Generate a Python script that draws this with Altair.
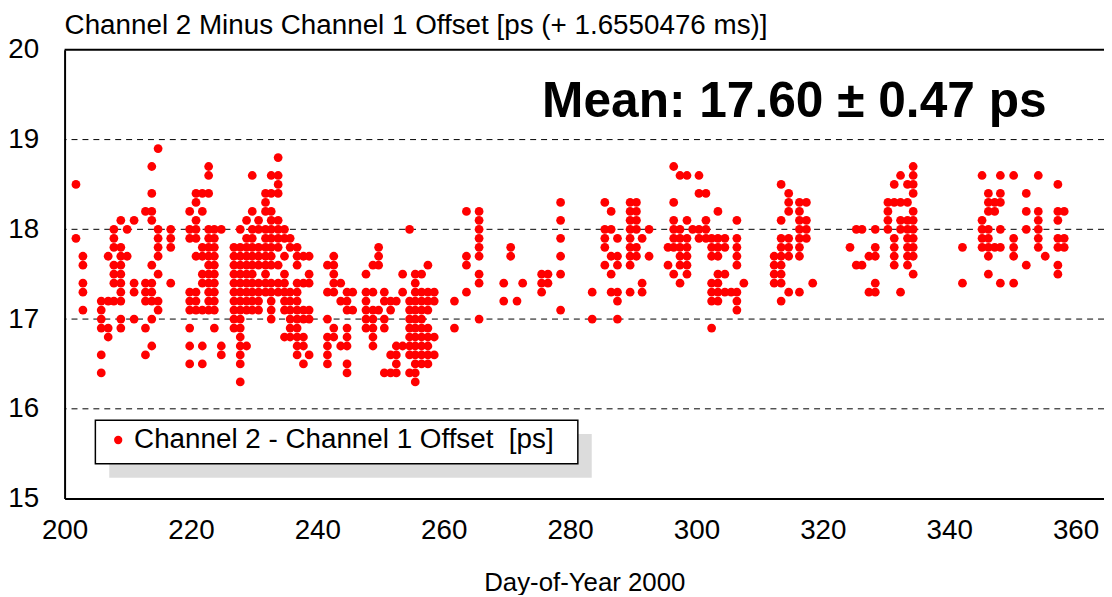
import altair as alt
import pandas as pd

FONT = "Liberation Sans, Arial, Helvetica, sans-serif"

# day-of-year of each measurement column
days = [
    201.8, 202.9, 205.8, 206.9, 207.8, 208.9, 209.9, 211.0, 212.8, 213.8, 214.8, 216.8,
    219.8, 220.8, 221.8, 222.8, 223.7, 224.8, 226.8, 227.8, 228.8, 229.7, 230.7, 231.8,
    232.7, 233.8, 234.8, 235.7, 236.8, 237.8, 238.7, 241.6, 242.6, 243.7, 244.7, 245.6,
    247.7, 248.8, 249.7, 250.6, 251.6, 252.5, 253.5, 254.6, 255.5, 256.5, 257.5, 258.5,
    261.7, 263.6, 265.6, 269.5, 270.6, 271.6, 272.5, 275.5, 276.5, 278.5, 283.5, 285.5,
    286.5, 287.5, 289.5, 290.5, 291.4, 292.5, 295.5, 296.4, 297.4, 298.5, 299.4, 300.4,
    301.5, 302.4, 303.4, 304.5, 305.5, 306.4, 307.5, 312.3, 313.4, 314.6, 316.3, 317.4,
    318.4, 324.3, 325.3, 326.2, 327.3, 328.3, 330.3, 331.3, 332.3, 333.4, 334.3, 342.1,
    345.2, 346.2, 347.2, 348.1, 350.2, 352.2, 354.1, 355.2, 357.2, 358.2,
]

# offsets (ps) measured on each of those days
offsets = [
    [18.5, 17.9],
    [17.7, 17.6, 17.4, 17.3, 17.1],
    [17.2, 17.1, 17.0, 16.9, 16.6, 16.4],
    [17.7, 17.2, 16.9, 16.8],
    [18.0, 17.9, 17.8, 17.6, 17.5, 17.4, 17.2],
    [18.1, 17.8, 17.7, 17.6, 17.5, 17.4, 17.3, 17.2, 17.0, 16.9],
    [18.0, 17.7],
    [18.1, 17.4, 17.3, 17.0],
    [18.2, 17.4, 17.3, 17.2, 16.9, 16.6],
    [18.7, 18.4, 18.2, 18.1, 17.6, 17.4, 17.3, 17.2, 17.0, 16.7],
    [18.9, 18.0, 17.9, 17.8, 17.7, 17.5, 17.2, 17.1],
    [18.0, 17.9, 17.8, 17.4],
    [18.2, 18.0, 17.9, 17.3, 17.2, 17.1, 16.9, 16.7, 16.5],
    [18.4, 18.3, 18.1, 18.0, 17.9, 17.7, 17.3, 17.2, 17.1],
    [18.4, 18.2, 17.8, 17.7, 17.5, 17.4, 17.1, 16.7, 16.5],
    [18.7, 18.6, 18.4, 18.0, 17.9, 17.8, 17.7, 17.6, 17.5, 17.4, 17.3, 17.2, 17.1],
    [18.0, 17.9, 17.8, 17.7, 17.6, 17.5, 17.4, 17.3, 17.2, 17.1, 16.9],
    [18.0, 16.7, 16.6],
    [17.8, 17.7, 17.6, 17.5, 17.4, 17.3, 17.2, 17.1, 17.0, 16.9],
    [18.0, 17.8, 17.7, 17.6, 17.5, 17.4, 17.3, 17.2, 17.1, 17.0, 16.9, 16.8, 16.7, 16.6, 16.5, 16.3],
    [18.1, 17.9, 17.8, 17.7, 17.6, 17.5, 17.4, 17.3, 17.2, 17.1, 16.7],
    [18.6, 18.2, 18.0, 17.9, 17.8, 17.7, 17.6, 17.5, 17.4, 17.3, 17.2, 17.1],
    [18.1, 18.0, 17.8, 17.7, 17.6, 17.4, 17.3, 17.2, 17.1],
    [18.4, 18.3, 18.2, 18.0, 17.9, 17.8, 17.7, 17.6, 17.5, 17.4, 17.3],
    [18.6, 18.4, 18.2, 18.1, 18.0, 17.9, 17.8, 17.7, 17.6, 17.4, 17.3, 17.2, 17.1, 17.0],
    [18.8, 18.6, 18.5, 18.4, 18.1, 18.0, 17.9, 17.8, 17.6, 17.4, 17.3],
    [18.0, 17.9, 17.7, 17.5, 17.4, 17.3, 17.2, 17.1, 16.8],
    [17.9, 17.8, 17.3, 17.2, 17.1, 17.0, 16.9, 16.8],
    [17.8, 17.7, 17.6, 17.4, 17.3, 17.2, 17.1, 17.0, 16.9, 16.8, 16.7, 16.6],
    [17.7, 17.4, 17.1, 17.0, 16.8, 16.7, 16.5],
    [17.7, 17.5, 17.4, 17.1, 17.0, 16.6],
    [17.6, 17.3, 17.0, 16.8, 16.7, 16.6, 16.5],
    [17.7, 17.6, 17.5, 17.4, 17.3, 16.9, 16.8],
    [17.4, 17.2, 16.7],
    [17.3, 17.2, 17.1, 16.9, 16.8, 16.7, 16.5, 16.4],
    [17.3, 17.1],
    [17.5, 17.3, 17.2, 17.1, 17.0, 16.9],
    [17.6, 17.3, 17.1, 17.0, 16.9, 16.8, 16.7],
    [17.8, 17.7, 17.6, 17.1],
    [17.3, 17.2, 17.0, 16.9, 16.4],
    [17.2, 17.1, 16.6, 16.4],
    [17.2, 16.7, 16.6, 16.5, 16.4],
    [17.5, 17.3, 16.7],
    [18.0, 17.2, 17.1, 17.0, 16.9, 16.8, 16.7, 16.6, 16.4],
    [17.5, 17.4, 17.3, 17.2, 17.1, 17.0, 16.9, 16.8, 16.7, 16.6, 16.5, 16.4, 16.3],
    [17.5, 17.3, 17.2, 17.1, 17.0, 16.9, 16.8, 16.7, 16.6, 16.5],
    [17.6, 17.3, 17.2, 17.1, 16.9, 16.8, 16.7, 16.6, 16.5],
    [17.3, 17.2, 16.8, 16.6],
    [17.2, 16.9],
    [18.2, 17.7, 17.6, 17.3],
    [18.2, 18.1, 18.0, 17.9, 17.8, 17.7, 17.5, 17.4, 17.0],
    [17.4, 17.2],
    [17.8, 17.7],
    [17.2],
    [17.4],
    [17.5, 17.4, 17.3],
    [17.5, 17.4],
    [18.3, 18.1, 17.9, 17.7, 17.5, 17.1],
    [17.3, 17.0],
    [18.3, 18.0, 17.9, 17.8, 17.6],
    [18.2, 18.0, 17.7, 17.5, 17.3],
    [17.9, 17.7, 17.6, 17.3, 17.2, 17.0],
    [18.3, 18.2, 18.1, 18.0, 17.9, 17.8, 17.7, 17.6, 17.3],
    [18.3, 18.2, 18.1, 18.0, 17.8, 17.7],
    [17.9, 17.4, 17.3],
    [18.0, 17.7],
    [17.8, 17.6],
    [18.7, 18.3, 18.1, 18.0, 17.9, 17.8, 17.5],
    [18.6, 18.0, 17.9, 17.8, 17.7, 17.6, 17.4],
    [18.6, 18.1, 17.9, 17.8, 17.7, 17.6, 17.5],
    [18.0],
    [18.6, 18.4, 18.0, 17.9],
    [18.4, 18.1, 18.0, 17.9],
    [17.9, 17.8, 17.7, 17.4, 17.3, 17.2, 16.9],
    [18.2, 17.9, 17.8, 17.7, 17.5, 17.4, 17.3, 17.2],
    [17.9, 17.8, 17.5, 17.3],
    [17.3],
    [18.1, 17.9, 17.8, 17.7, 17.6, 17.3, 17.2, 17.1],
    [17.4],
    [17.7, 17.6, 17.5, 17.4],
    [18.5, 18.1, 17.9, 17.8, 17.7, 17.6, 17.5, 17.4, 17.2],
    [18.4, 18.3, 18.2, 17.9, 17.8, 17.7, 17.3],
    [18.3, 18.2, 18.1, 18.0, 17.9, 17.8, 17.7, 17.3],
    [18.3, 18.1, 18.0, 17.9],
    [17.4],
    [17.8],
    [18.0, 17.6],
    [18.0, 17.6],
    [17.7, 17.3],
    [18.0, 17.8, 17.7, 17.4, 17.3],
    [18.3, 18.2, 18.1, 18.0],
    [18.5, 18.3, 17.9, 17.8, 17.7, 17.6],
    [18.6, 18.3, 18.1, 18.0, 17.3],
    [18.5, 18.3, 18.1, 18.0, 17.9, 17.8, 17.7, 17.6],
    [18.7, 18.6, 18.5, 18.4, 18.2, 18.1, 18.0, 17.9, 17.8, 17.7, 17.5],
    [17.8, 17.4],
    [18.6, 18.1, 18.0, 17.9, 17.8],
    [18.4, 18.3, 18.2, 18.0, 17.9, 17.8, 17.7, 17.5],
    [18.3, 18.2, 17.8],
    [18.6, 18.4, 18.3, 18.0, 17.8, 17.4],
    [18.6, 17.9, 17.8, 17.7, 17.4],
    [18.4, 18.2, 18.0, 17.6],
    [18.6, 18.2, 18.1, 18.0, 17.9, 17.8],
    [17.7],
    [18.5, 18.2, 18.1, 17.9, 17.8, 17.6, 17.5],
    [18.2, 17.9, 17.8],
]

grid_levels = [16, 17, 18, 19]
x_ticks = [200, 220, 240, 260, 280, 300, 320, 340, 360]
y_ticks = [15, 16, 17, 18, 19, 20]
series_name = "Channel 2 - Channel 1 Offset\u00a0 [ps]"
chart_title = "Channel 2 Minus Channel 1 Offset [ps (+ 1.6550476 ms)]"
mean_label = "Mean: 17.60 \u00b1 0.47 ps"
x_title = "Day-of-Year 2000"

rows = []
for d, vals in zip(days, offsets):
    for v in vals:
        rows.append({"day": d, "offset": v, "series": series_name})
df = pd.DataFrame(rows)

W, H = 1047, 452
XD = [200, 364.5]
YD = [15, 20]

xscale = alt.Scale(domain=XD, nice=False, zero=False)
yscale = alt.Scale(domain=YD, nice=False, zero=False)

x_axis = alt.Axis(values=x_ticks, grid=False, ticks=False, domain=True,
                  domainColor="black", domainWidth=2, labelFontSize=28,
                  labelFont=FONT, labelColor="black", labelPadding=18,
                  titleFont=FONT, titleFontSize=26, titleFontWeight="normal",
                  titleColor="black", titlePadding=26, labelFlush=False)
y_axis = alt.Axis(values=y_ticks, grid=False, ticks=False, domain=True,
                  domainColor="black", domainWidth=2, labelFontSize=28,
                  labelFont=FONT, labelColor="black", labelPadding=26,
                  format="d")

grid = alt.Chart(pd.DataFrame({"g": grid_levels})).mark_rule(
    color="black", strokeDash=[6, 5], strokeWidth=1
).encode(y=alt.Y("g:Q", scale=yscale, title=None, axis=y_axis))

shadow = alt.Chart(pd.DataFrame({"k": [0]})).mark_rect(color="#dcdcdc").encode(
    x=alt.value(45), x2=alt.value(531), y=alt.value(387), y2=alt.value(431)
)
box = alt.Chart(pd.DataFrame({"k": [0]})).mark_rect(
    fill="white", stroke="black", strokeWidth=1.5
).encode(x=alt.value(31), x2=alt.value(517), y=alt.value(373), y2=alt.value(417))

top_border = alt.Chart(pd.DataFrame({"k": [0]})).mark_rule(
    color="black", strokeWidth=2
).encode(x=alt.value(0), x2=alt.value(W), y=alt.value(0))

points = alt.Chart(df).mark_circle(size=78, opacity=1).encode(
    x=alt.X("day:Q", scale=xscale, title=x_title, axis=x_axis),
    y=alt.Y("offset:Q", scale=yscale, title=None, axis=y_axis),
    color=alt.Color(
        "series:N",
        scale=alt.Scale(domain=[series_name], range=["#ff0000"]),
        legend=alt.Legend(
            title=None, orient="none", legendX=40, legendY=379, padding=0,
            symbolType="circle", symbolSize=70, labelFont=FONT, labelFontSize=28,
            labelColor="black", labelOffset=2, labelLimit=600,
        ),
    ),
)

mean_text = alt.Chart(pd.DataFrame({"t": [mean_label]})).mark_text(
    align="left", baseline="alphabetic", font=FONT, fontSize=50,
    fontWeight="bold", color="black"
).encode(x=alt.value(481), y=alt.value(68), text="t:N")

chart = alt.layer(grid, shadow, box, top_border, points, mean_text).properties(
    width=W, height=H,
    title=alt.TitleParams(chart_title, anchor="start", frame="group", font=FONT,
                          fontSize=28, fontWeight="normal", color="black",
                          offset=-4),
    autosize=alt.AutoSizeParams(type="none"),
    padding={"left": 57, "top": 40, "right": 0, "bottom": 95},
).configure_view(stroke=None)

chart.save("out.html", embed_options={"renderer": "svg", "actions": False})
